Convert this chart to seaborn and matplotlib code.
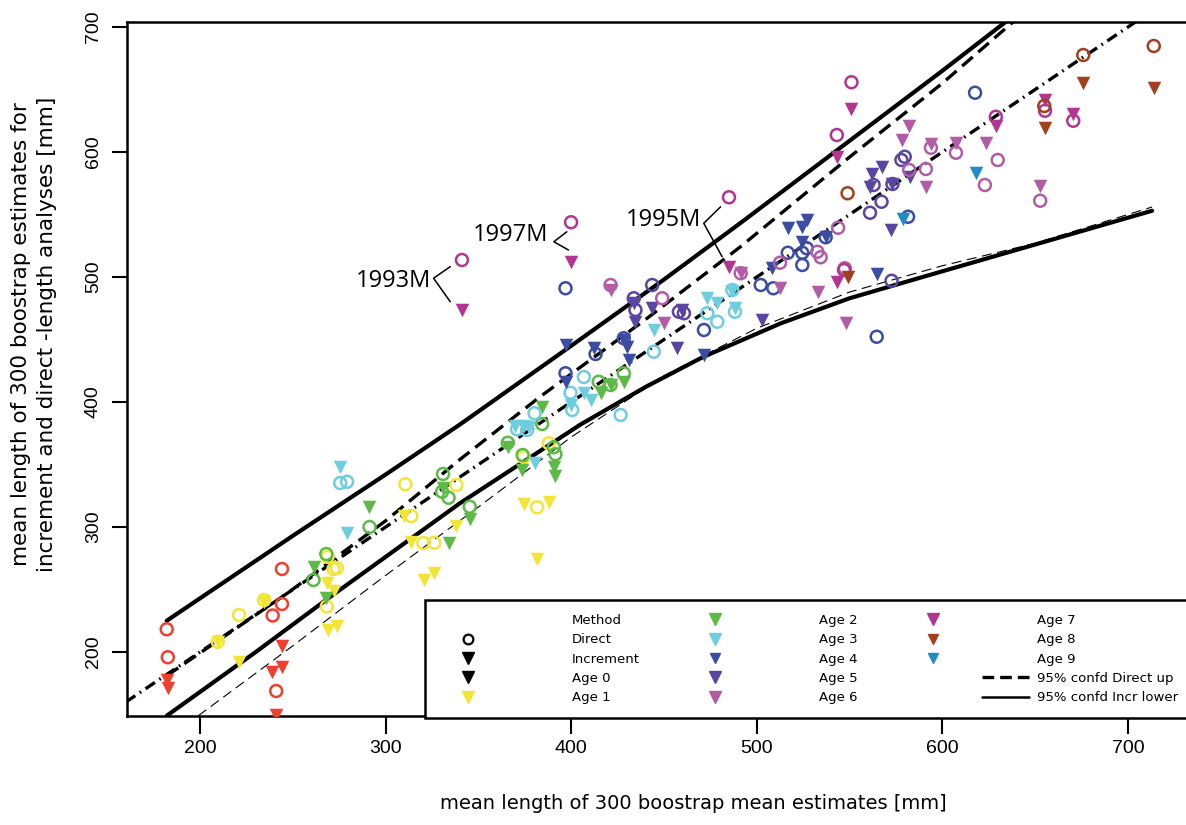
import numpy as np
import pandas as pd
import seaborn as sns
import matplotlib.pyplot as plt
from matplotlib.lines import Line2D
from matplotlib.legend_handler import HandlerLine2D

# --- data (mean lengths, mm) ---
ages = ['Age 0', 'Age 1', 'Age 2', 'Age 3', 'Age 4',
        'Age 5', 'Age 6', 'Age 7', 'Age 8', 'Age 9']

a0_dir_x = [182.0, 182.6, 244.1, 244.1, 239.1, 241.0]
a0_dir_y = [218.2, 195.8, 266.4, 238.4, 229.2, 168.8]
a0_inc_x = [182.0, 182.9, 244.1, 239.0, 244.1, 241.0]
a0_inc_y = [177.6, 171.0, 204.8, 184.2, 187.8, 149.6]

a1_dir_x = [209.5, 221.0, 234.5, 268.3, 268.7, 271.9, 273.7, 310.6, 313.8, 320.3, 326.2, 338.1, 374.4, 381.6, 387.9]
a1_dir_y = [208.2, 229.6, 241.6, 236.4, 276.2, 266.4, 267.2, 334.2, 308.8, 287.2, 287.4, 333.6, 355.8, 315.8, 367.0]
a1_inc_x = [209.5, 221.0, 234.5, 268.3, 268.7, 271.9, 273.7, 310.0, 313.7, 320.4, 326.2, 338.1, 374.8, 387.9, 381.6]
a1_inc_y = [208.2, 192.2, 240.0, 255.0, 217.6, 248.8, 220.8, 309.0, 288.2, 257.6, 263.4, 301.0, 318.4, 320.2, 274.2]

a2_dir_x = [261.1, 268.0, 291.3, 330.9, 330.4, 333.9, 345.3, 365.8, 373.8, 384.3, 390.6, 391.5, 414.8, 421.2, 428.3]
a2_dir_y = [257.6, 278.4, 300.0, 342.4, 328.2, 323.4, 316.2, 367.4, 357.6, 382.4, 363.8, 358.2, 416.2, 413.6, 423.0]
a2_inc_x = [261.1, 268.0, 291.0, 330.9, 333.9, 345.3, 365.8, 373.4, 384.3, 390.6, 391.1, 415.8, 421.2, 428.3]
a2_inc_y = [268.2, 243.2, 316.0, 331.0, 287.0, 306.2, 364.2, 345.6, 395.8, 347.8, 340.8, 407.0, 413.6, 416.2]

a3_dir_x = [275.5, 279.2, 370.8, 376.2, 380.2, 399.6, 406.8, 400.5, 426.6, 444.5, 473.3, 478.7, 486.8, 488.2]
a3_dir_y = [335.2, 336.2, 378.2, 377.6, 391.0, 407.4, 420.0, 393.6, 389.6, 440.2, 471.0, 464.2, 489.6, 472.2]
a3_inc_x = [275.5, 279.1, 369.9, 374.4, 377.1, 380.7, 399.6, 406.8, 410.7, 444.8, 473.3, 478.7, 486.8, 488.2]
a3_inc_y = [348.2, 295.0, 380.8, 380.8, 379.8, 351.4, 397.6, 407.0, 401.6, 457.6, 483.0, 479.0, 488.8, 475.2]

a4_dir_x = [396.9, 413.1, 428.3, 396.9, 471.5, 502.1, 508.9, 524.5, 516.7, 524.5, 526.9, 537.1, 564.6, 581.5, 617.6]
a4_dir_y = [491.0, 438.4, 451.0, 423.0, 457.6, 493.6, 491.0, 509.6, 519.4, 519.4, 523.0, 531.8, 452.2, 548.2, 647.4]
a4_inc_x = [396.9, 412.2, 430.2, 431.0, 396.9, 471.5, 508.4, 516.7, 524.5, 527.3, 537.1, 524.5, 564.6, 428.3]
a4_inc_y = [445.6, 443.0, 444.2, 433.6, 416.2, 437.6, 507.0, 539.0, 540.2, 545.6, 531.8, 528.2, 502.4, 449.6]

a5_dir_x = [443.6, 433.7, 434.6, 458.0, 460.7, 572.6, 579.7, 577.9, 562.9, 573.1, 567.2, 561.0]
a5_dir_y = [493.6, 483.0, 473.6, 472.2, 471.0, 497.0, 596.2, 593.6, 573.6, 574.4, 560.2, 551.4]
a5_inc_x = [433.7, 443.6, 459.7, 434.6, 457.1, 502.9, 582.5, 567.6, 562.3, 561.0, 573.1, 572.5]
a5_inc_y = [479.0, 475.0, 473.6, 464.2, 443.0, 465.6, 580.2, 588.2, 582.4, 571.8, 574.4, 537.6]

a6_dir_x = [421.2, 449.0, 491.3, 512.5, 532.6, 534.4, 543.8, 547.4, 582.1, 591.1, 593.8, 607.3, 622.9, 629.8, 652.7]
a6_dir_y = [493.6, 483.0, 503.0, 511.4, 520.2, 515.8, 539.4, 507.0, 585.6, 586.4, 603.4, 599.4, 573.6, 593.6, 561.0]
a6_inc_x = [421.2, 449.9, 491.3, 512.5, 533.2, 547.9, 578.0, 582.2, 591.1, 593.8, 607.3, 623.4, 652.7]
a6_inc_y = [489.6, 463.0, 503.0, 491.0, 488.2, 463.0, 610.0, 620.8, 572.2, 606.4, 607.4, 607.4, 573.0]

a7_dir_x = [341.1, 399.9, 485.0, 551.0, 543.1, 547.0, 628.8, 655.3, 670.5]
a7_dir_y = [513.6, 543.8, 563.8, 655.8, 613.6, 505.6, 628.2, 633.0, 625.0]
a7_inc_x = [341.1, 399.9, 485.0, 551.0, 543.1, 543.4, 628.8, 655.3, 670.5]
a7_inc_y = [473.6, 512.2, 508.2, 634.2, 596.2, 496.2, 620.8, 641.6, 630.4]

a8_dir_x = [548.9, 654.9, 675.9, 713.9]
a8_dir_y = [567.0, 636.8, 677.6, 684.8]
a8_inc_x = [548.9, 655.3, 675.9, 713.9]
a8_inc_y = [500.2, 619.0, 655.4, 651.0]

a9_dir_x = []
a9_dir_y = []
a9_inc_x = [579.0, 618.0]
a9_inc_y = [546.2, 583.0]

# confidence / reference curves
upper_x = [182, 200, 250, 300, 340, 400, 450, 491, 550, 600, 634, 700]
upper_y = [225, 243, 293, 342, 382, 445, 498, 543, 609, 665, 704, 780]
direct_up_x = [182, 247, 300, 340, 383, 440, 491, 550, 600, 638, 700]
direct_up_y = [181, 247, 305, 354, 404, 466, 524, 596, 655, 704, 784]
one_to_one = [160, 735]
incr_low_x = [182, 230, 270, 340, 405, 440, 471, 513, 550, 594, 650, 713]
incr_low_y = [149, 200, 244, 319, 382, 412, 436, 463, 483, 502, 526, 553]
thin_low_x = [199, 250, 297, 350, 400, 450, 500, 550, 600, 650, 713]
thin_low_y = [149, 205, 258, 316, 372, 421, 459, 488, 509, 527, 556]

# outlier labels: text anchor (right edge), bracket vertex, arm ends
ann_labels = ['1993M', '1997M', '1995M']
ann_text = [(324.6, 496.8), (387.7, 533.6), (469.7, 545.6)]
ann_vertex = [(325.8, 499.0), (390.6, 528.2), (471.4, 543.0)]
ann_up = [(334.8, 508.3), (397.6, 536.2), (480.5, 556.2)]
ann_down = [(334.8, 480.2), (398.5, 521.6), (481.3, 516.2)]

colors = ['#EE3F2F', '#F2E536', '#5DBA47', '#6FCDE0', '#3A4CA4',
          '#5A45A0', '#B35BA7', '#B43491', '#A2401E', '#1E8DC6']

dir_x = [a0_dir_x, a1_dir_x, a2_dir_x, a3_dir_x, a4_dir_x, a5_dir_x, a6_dir_x, a7_dir_x, a8_dir_x, a9_dir_x]
dir_y = [a0_dir_y, a1_dir_y, a2_dir_y, a3_dir_y, a4_dir_y, a5_dir_y, a6_dir_y, a7_dir_y, a8_dir_y, a9_dir_y]
inc_x = [a0_inc_x, a1_inc_x, a2_inc_x, a3_inc_x, a4_inc_x, a5_inc_x, a6_inc_x, a7_inc_x, a8_inc_x, a9_inc_x]
inc_y = [a0_inc_y, a1_inc_y, a2_inc_y, a3_inc_y, a4_inc_y, a5_inc_y, a6_inc_y, a7_inc_y, a8_inc_y, a9_inc_y]

frames = []
for i, age in enumerate(ages):
    if dir_x[i]:
        frames.append(pd.DataFrame({'x': dir_x[i], 'y': dir_y[i], 'age': age, 'method': 'Direct'}))
    frames.append(pd.DataFrame({'x': inc_x[i], 'y': inc_y[i], 'age': age, 'method': 'Increment'}))
df = pd.concat(frames, ignore_index=True)

sns.set_style('ticks')
plt.rcParams['font.family'] = ['DejaVu Sans']
plt.rcParams.update({'text.color': 'black', 'axes.labelcolor': 'black',
                     'xtick.color': 'black', 'ytick.color': 'black'})

fig = plt.figure(figsize=(11.86, 8.25), dpi=100)
ax = fig.add_axes([127 / 1186, 1 - 716 / 825, (1192 - 127) / 1186, (716 - 22) / 825])

# curves
sns.lineplot(x=one_to_one, y=one_to_one, color='black', lw=2.4, ax=ax)
ax.lines[-1].set_dashes((3.4, 1.6, 0.5, 1.6))
sns.lineplot(x=direct_up_x, y=direct_up_y, color='black', lw=2.4, sort=False, estimator=None, ax=ax)
ax.lines[-1].set_dashes((4.2, 2.2))
sns.lineplot(x=upper_x, y=upper_y, color='black', lw=3, sort=False, estimator=None, ax=ax)
sns.lineplot(x=thin_low_x, y=thin_low_y, color='black', lw=0.8, sort=False, estimator=None, ax=ax)
ax.lines[-1].set_dashes((9, 5))
sns.lineplot(x=incr_low_x, y=incr_low_y, color='black', lw=3, sort=False, estimator=None, ax=ax)

# points
for age, col in zip(ages, colors):
    d = df[(df.age == age) & (df.method == 'Direct')]
    if len(d):
        sns.scatterplot(data=d, x='x', y='y', marker='o', s=74, color=col, facecolor='none',
                        edgecolor=col, linewidth=1.8, ax=ax, legend=False, zorder=3)
    d = df[(df.age == age) & (df.method == 'Increment')]
    sns.scatterplot(data=d, x='x', y='y', marker='v', s=95, color=col, linewidth=0,
                    ax=ax, legend=False, zorder=3)

# outlier labels with brackets
for lab, t, v, u, w in zip(ann_labels, ann_text, ann_vertex, ann_up, ann_down):
    ax.text(t[0], t[1], lab, ha='right', va='center', fontsize=17, family='Open Sans', color='black')
    ax.plot([u[0], v[0], w[0]], [u[1], v[1], w[1]], color='black', lw=1.1)

ax.set_xlim(160.6, 734.5)
ax.set_ylim(148.8, 704)
ax.set_xticks([200, 300, 400, 500, 600, 700])
ax.set_yticks([200, 300, 400, 500, 600, 700])
for sp in ax.spines.values():
    sp.set_linewidth(1.8)
    sp.set_color('black')
ax.tick_params(axis='x', length=13, width=1.5, pad=4, labelsize=14)
ax.tick_params(axis='y', length=11, width=1.5, pad=7, labelsize=14)
for lab in ax.get_xticklabels() + ax.get_yticklabels():
    lab.set_family(['Liberation Sans', 'DejaVu Sans'])
for lab in ax.get_yticklabels():
    lab.set_rotation(90)
    lab.set_va('center')

ax.set_xlabel('mean length of 300 boostrap mean estimates [mm]', fontsize=14)
ax.xaxis.set_label_coords(0.532, -0.112)
ax.set_ylabel('mean length of 300 boostrap estimates for\nincrement and direct -length analyses [mm]',
              fontsize=15.5, linespacing=1.38)
ax.yaxis.set_label_coords(-0.066, 0.55)


# legend: marker on the left of the handle box, line samples on the right
class SideHandler(HandlerLine2D):
    def create_artists(self, legend, orig_handle, xdescent, ydescent, width, height, fontsize, trans):
        if orig_handle.get_linestyle() in ('None', 'none', ''):
            xs = np.array([0.23, 0.23, 0.23]) * width - xdescent
        else:
            xs = np.linspace(0.62, 0.99, 3) * width - xdescent
        ys = np.full(3, (height - ydescent) / 2)
        line = Line2D(xs, ys, markevery=[1])
        self.update_prop(line, orig_handle, legend)
        line.set_transform(trans)
        return [line]


leg_colors = ['black'] + colors[1:]
leg_sizes = [8, 8, 8, 8, 6.5, 9, 8.5, 8.5, 7.5, 6.5]
handles = [Line2D([], [], ls='None'),
           Line2D([], [], ls='None', marker='o', ms=7, mfc='none', mec='black', mew=1.6),
           Line2D([], [], ls='None', marker='v', ms=8, color='black')]
labels = ['Method', 'Direct', 'Increment']
for age, col, ms in zip(ages, leg_colors, leg_sizes):
    handles.append(Line2D([], [], ls='None', marker='v', ms=ms, color=col))
    labels.append(age)
handles.append(Line2D([], [], color='black', lw=2.4, dashes=(3.5, 1.8)))
labels.append('95% confd Direct up')
handles.append(Line2D([], [], color='black', lw=1.8))
labels.append('95% confd Incr lower')

leg = ax.legend(handles, labels, ncol=3, loc='upper left', bbox_to_anchor=(0.2794, 0.167),
                fontsize=9.5, handlelength=9.6, handleheight=0.7, handletextpad=0.5,
                labelspacing=0.48, columnspacing=3.5, borderpad=1.05, borderaxespad=0,
                frameon=True, fancybox=False, framealpha=1, edgecolor='black',
                handler_map={Line2D: SideHandler()})
leg.get_frame().set_linewidth(1.8)

fig.savefig('out.png', dpi=100)
